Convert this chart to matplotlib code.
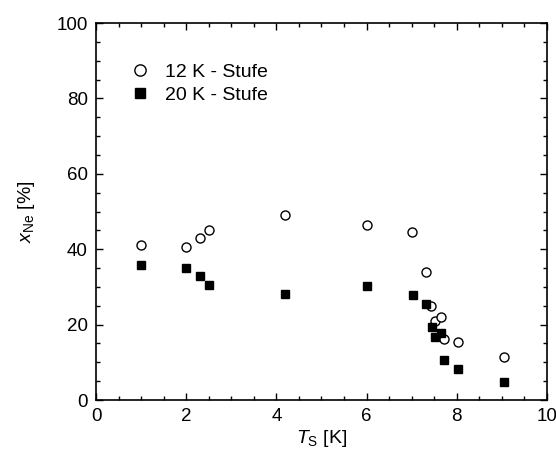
import matplotlib
matplotlib.use('Agg')
import matplotlib.pyplot as plt
from matplotlib.ticker import MultipleLocator

plt.rcParams['font.family'] = 'Liberation Sans'
plt.rcParams['mathtext.fontset'] = 'custom'
plt.rcParams['mathtext.rm'] = 'Liberation Sans'
plt.rcParams['mathtext.it'] = 'Liberation Sans:italic'

# 12 K stage (open circles)
t12 = [1.0, 2.0, 2.3, 2.5, 4.2, 6.0, 7.0, 7.32, 7.43, 7.52, 7.64, 7.72, 8.03, 9.04]
x12 = [41.0, 40.7, 42.9, 45.0, 49.2, 46.5, 44.7, 34.0, 25.0, 20.9, 21.9, 16.2, 15.4, 11.4]

# 20 K stage (filled squares)
t20 = [1.0, 2.0, 2.3, 2.5, 4.2, 6.0, 7.04, 7.32, 7.44, 7.52, 7.64, 7.72, 8.03, 9.04]
x20 = [35.9, 34.9, 33.0, 30.6, 28.0, 30.2, 27.8, 25.6, 19.5, 16.6, 17.9, 10.6, 8.1, 4.7]

fig = plt.figure(figsize=(5.56, 4.59), dpi=100)
ax = fig.add_axes([0.1727, 0.1285, 0.811, 0.8213])

ax.plot(t12, x12, 'o', mfc='white', mec='black', mew=1.0, ms=6.5, label='12 K - Stufe')
ax.plot(t20, x20, 's', color='black', ms=5.5, label='20 K - Stufe')

ax.set_xlim(0, 10)
ax.set_ylim(0, 100)
ax.xaxis.set_major_locator(MultipleLocator(2))
ax.xaxis.set_minor_locator(MultipleLocator(0.5))
ax.yaxis.set_major_locator(MultipleLocator(20))
ax.yaxis.set_minor_locator(MultipleLocator(5))
ax.tick_params(which='both', direction='in', top=True, right=True, width=1)
ax.tick_params(which='major', length=5, labelsize=13.5, pad=6)
ax.tick_params(which='minor', length=3)
for s in ax.spines.values():
    s.set_linewidth(1.2)

ax.set_xlabel(r'$\mathit{T}_{\mathrm{S}}$ [K]', fontsize=14, labelpad=2)
ax.set_ylabel(r'$\mathit{x}_{\mathrm{Ne}}$ [%]', fontsize=14, labelpad=14)

ax.legend(loc='upper left', bbox_to_anchor=(0.075, 0.893), frameon=False,
          fontsize=14, handletextpad=0.8, markerscale=1.25, borderpad=0,
          borderaxespad=0, labelspacing=0.28, handlelength=1.0)

fig.savefig('out.png', dpi=100)
